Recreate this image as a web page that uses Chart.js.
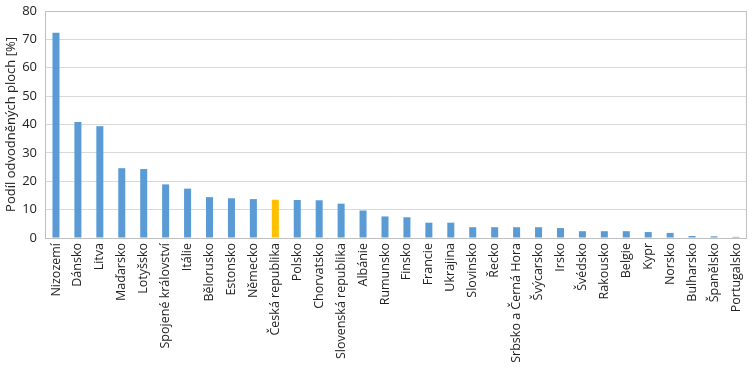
<!DOCTYPE html>
<html>
<head>
<meta charset="utf-8">
<script src="https://cdn.jsdelivr.net/npm/chart.js@4"></script>
<style>
  html, body { margin: 0; padding: 0; background: #fff; }
  #wrap { width: 756px; height: 372px; }
</style>
</head>
<body>
<div id="wrap"><canvas id="bar-chart" width="756" height="372"></canvas></div>
<script>
const countries = ['Nizozemí', 'Dánsko', 'Litva', 'Maďarsko', 'Lotyšsko', 'Spojené království', 'Itálie',
    'Bělorusko', 'Estonsko', 'Německo', 'Česká republika', 'Polsko', 'Chorvatsko', 'Slovenská republika',
    'Albánie', 'Rumunsko', 'Finsko', 'Francie', 'Ukrajina', 'Slovinsko', 'Řecko', 'Srbsko a Černá Hora',
    'Švýcarsko', 'Irsko', 'Švédsko', 'Rakousko', 'Belgie', 'Kypr', 'Norsko', 'Bulharsko', 'Španělsko', 'Portugalsko'];
const drainedShare = [72.3, 40.9, 39.4, 24.6, 24.3, 18.9, 17.4, 14.4, 14.0, 13.7, 13.5, 13.4, 13.3, 12.1,
    9.7, 7.6, 7.3, 5.4, 5.4, 3.8, 3.8, 3.8, 3.8, 3.5, 2.4, 2.4, 2.4, 2.1, 1.8, 0.7, 0.6, 0.4];
const yTicks = [0, 10, 20, 30, 40, 50, 60, 70, 80];
const highlight = 'Česká republika';

const barColors = countries.map(c => c === highlight ? '#FFC000' : '#5B9BD5');
const font = { family: "'Open Sans', 'Liberation Sans', sans-serif", size: 13 };

new Chart(document.getElementById('bar-chart'), {
    type: 'bar',
    data: {
        labels: countries,
        datasets: [{
            data: drainedShare,
            backgroundColor: barColors,
            categoryPercentage: 1,
            barPercentage: 0.32
        }]
    },
    options: {
        responsive: false,
        animation: false,
        layout: { padding: { top: 0, right: 3, left: 3, bottom: 0 } },
        plugins: {
            legend: { display: false },
            tooltip: { enabled: false }
        },
        scales: {
            x: {
                grid: { display: false, drawTicks: false },
                border: { color: '#BFBFBF' },
                ticks: {
                    color: '#222',
                    font: { ...font, size: 12.5 },
                    minRotation: 90,
                    maxRotation: 90,
                    autoSkip: false,
                    padding: 5
                },
                afterFit: scale => { scale.height = 134; }
            },
            y: {
                min: 0,
                max: 80,
                afterBuildTicks: scale => { scale.ticks = yTicks.map(v => ({ value: v })); },
                grid: { color: '#D9D9D9', drawTicks: false },
                border: { color: '#BFBFBF' },
                ticks: { color: '#222', font: font, padding: 8 },
                title: {
                    display: true,
                    text: 'Podíl odvodněných ploch [%]',
                    color: '#222',
                    font: font,
                    padding: { top: 0, bottom: 2 }
                },
                afterFit: scale => {
                    scale.width = 42;
                    scale.paddingTop = 11;
                }
            }
        }
    },
    plugins: [{
        id: 'frame',
        afterDraw(chart) {
            const { ctx, chartArea: a } = chart;
            ctx.save();
            ctx.strokeStyle = '#BFBFBF';
            ctx.lineWidth = 1;
            ctx.strokeRect(a.left + 0.5, a.top + 0.5, a.right - a.left - 1, a.bottom - a.top);
            ctx.restore();
        }
    }]
});
</script>
</body>
</html>
